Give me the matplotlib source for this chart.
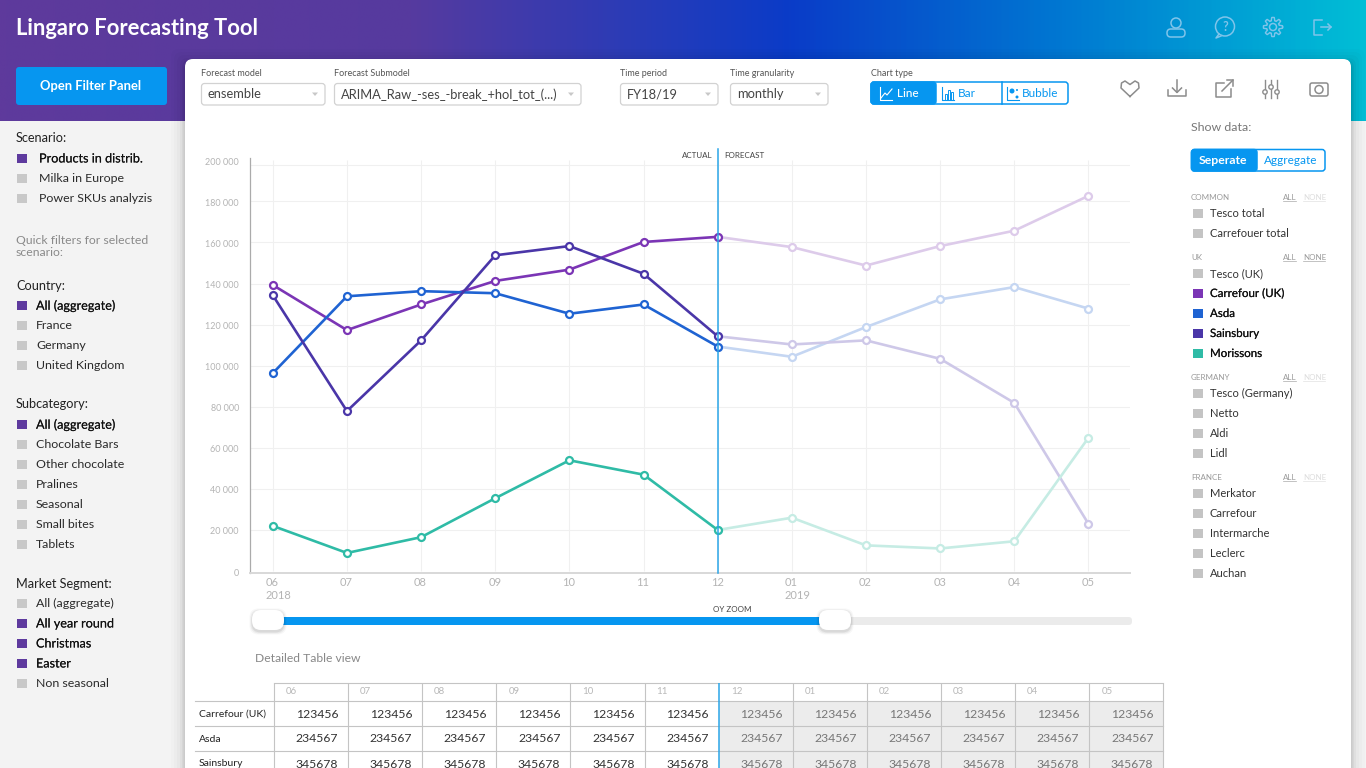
import numpy as np
import matplotlib
matplotlib.use("Agg")
import matplotlib.pyplot as plt
import matplotlib.patheffects as pe
from matplotlib.colors import LinearSegmentedColormap
from matplotlib.patches import FancyBboxPatch, Rectangle, Circle, Polygon
from matplotlib.transforms import ScaledTranslation

plt.rcParams['font.family'] = ['Lato', 'DejaVu Sans']

months = ["06\n2018", "07", "08", "09", "10", "11", "12", "01\n2019", "02", "03", "04", "05"]
table_months = ["06", "07", "08", "09", "10", "11", "12", "01", "02", "03", "04", "05"]
y_ticks = [0, 20000, 40000, 60000, 80000, 100000, 120000, 140000, 160000, 180000, 200000]
grid_levels = [20000, 40000, 60000, 80000, 100000, 120000, 140000, 160500, 180500, 198000]
carrefour_uk = [139500, 117500, 130000, 141500, 147000, 160500, 163000, 158000, 149000, 158500, 166000, 183000]
asda = [96500, 134000, 136500, 135500, 125500, 130000, 109500, 104500, 119000, 132500, 138500, 128000]
sainsbury = [134500, 78000, 112500, 154000, 158500, 145000, 114500, 110500, 112500, 103500, 82000, 23000]
morissons = [22000, 8800, 16500, 35500, 54000, 47000, 20000, 26000, 12500, 11000, 14500, 65000]
series_colors = ["#7B35B5", "#1F63D2", "#4A36A8", "#2FBBA6"]
series_pale = ["#DDCBEA", "#C5D6F2", "#CEC8E8", "#C6ECE4"]
split = 6

scenario = [("Products in distrib.", 1), ("Milka in Europe", 0), ("Power SKUs analyzis", 0)]
country = [("All (aggregate)", 1), ("France", 0), ("Germany", 0), ("United Kingdom", 0)]
subcategory = [("All (aggregate)", 1), ("Chocolate Bars", 0), ("Other chocolate", 0), ("Pralines", 0),
               ("Seasonal", 0), ("Small bites", 0), ("Tablets", 0)]
segment = [("All (aggregate)", 0), ("All year round", 1), ("Christmas", 1), ("Easter", 1), ("Non seasonal", 0)]

common = ["Tesco total", "Carrefouer total"]
uk = ["Tesco (UK)", "Carrefour (UK)", "Asda", "Sainsbury", "Morissons"]
uk_colors = ["#C4C4C4", "#7B35B5", "#1F63D2", "#4A36A8", "#2FBBA6"]
germany = ["Tesco (Germany)", "Netto", "Aldi", "Lidl"]
france = ["Merkator", "Carrefour", "Intermarche", "Leclerc", "Auchan"]

table_rows = ["Carrefour (UK)", "Asda", "Sainsbury"]
table_vals = ["123456", "234567", "345678"]

BLUE = "#0696F0"
PURPLE = "#5E3A9E"
W, H = 1366, 768

fig = plt.figure(figsize=(W / 100, H / 100), dpi=100, facecolor="#F3F3F3")
ui = fig.add_axes([0, 0, 1, 1])
ui.set_xlim(0, W)
ui.set_ylim(H, 0)
ui.axis("off")


def rbox(x0, y0, x1, y1, r=4, **kw):
    p = FancyBboxPatch((x0 + r, y0 + r), x1 - x0 - 2 * r, y1 - y0 - 2 * r,
                       boxstyle="round,pad=%g,rounding_size=%g" % (r, r), **kw)
    ui.add_patch(p)
    return p


def label(x, y, s, size=8.5, color="#333333", **kw):
    kw.setdefault("va", "center")
    return ui.text(x, y + 0.5, s, fontsize=size, color=color, **kw)


# header gradient
grad = LinearSegmentedColormap.from_list("hdr", [(0, "#5E3A9C"), (0.3, "#563A9F"), (0.58, "#0A3CC8"),
                                                 (0.78, "#0078D2"), (1, "#00BED6")])
ui.imshow(np.linspace(0, 1, 600).reshape(1, -1), extent=(0, W, 121, 0), cmap=grad, aspect="auto", zorder=0)
ui.set_xlim(0, W)
ui.set_ylim(H, 0)
label(16, 28, "Lingaro Forecasting Tool", size=15.8, color="white", weight="bold")

# header icons
ic = "#7FC4EA"
ui.add_patch(Circle((1176, 23), 5, fill=False, ec=ic, lw=1.1))
rbox(1167, 29, 1185, 37, r=3.8, fc="none", ec=ic, lw=1.1)
ui.add_patch(Circle((1225, 26.5), 9.5, fill=False, ec=ic, lw=1.1))
ui.plot([1219, 1216, 1221], [34, 38, 36], color=ic, lw=1.1)
label(1225, 26.5, "?", size=9, color=ic, ha="center", weight="bold")
ui.add_patch(Circle((1273, 27), 3.5, fill=False, ec=ic, lw=1.1))
ang = np.linspace(0, 2 * np.pi, 97)
gear_r = 8 + 1.6 * np.clip(3 * np.cos(8 * ang), -1, 1)
ui.plot(1273 + gear_r * np.cos(ang), 27 + gear_r * np.sin(ang), color=ic, lw=1.0)
ui.plot([1322, 1314, 1314, 1322], [20, 20, 35, 35], color=ic, lw=1.1)
ui.plot([1321, 1331], [27, 27], color=ic, lw=1.1)
ui.plot([1328, 1331, 1328], [24, 27, 30], color=ic, lw=1.1)

# open filter button
rbox(16, 67, 167, 105, r=3, fc=BLUE, ec="none", zorder=2)
label(90.5, 85.5, "Open Filter Panel", size=9.4, color="white", weight="bold", ha="center", zorder=3)


# left panel filter lists
def filter_block(y, title, items, x_text=36, first=20, gap=20):
    label(16, y, title, size=9.2, color="#222222")
    yy = y + first
    for name, on in items:
        ui.add_patch(Rectangle((17, yy - 4.5), 9.5, 9.5, fc=PURPLE if on else "#C8C8C8", ec="none"))
        t = label(x_text, yy, name, size=9.1 if on else 8.9, color="#111111" if on else "#2A2A2A")
        if on:
            t.set_path_effects([pe.withStroke(linewidth=0.05, foreground="#111111")])
        yy += gap


filter_block(138, "Scenario:", scenario, x_text=39)
label(16, 240, "Quick filters for selected", size=8.8, color="#8A8A8A")
label(16, 252, "scenario:", size=8.8, color="#8A8A8A")
filter_block(285, "Country:", country)
filter_block(404, "Subcategory:", subcategory)
filter_block(584, "Market Segment:", segment, first=19)

# white panel with soft shadow
for grow, a in [(14, 0.012), (11, 0.015), (8, 0.02), (5, 0.03), (3, 0.04), (1.5, 0.05)]:
    rbox(185 - grow, 59 - grow + 4, 1351 + grow, 790, r=8, fc="black", ec="none", alpha=a, zorder=1)
rbox(185, 59, 1351, 800, r=8, fc="white", ec="none", zorder=1.5)

# control row
Z = 3


def dropdown(x0, x1, title, value):
    label(x0, 73, title, size=6.5, color="#555555", zorder=Z)
    rbox(x0 + 0.5, 83.5, x1, 105, r=3, fc="white", ec="#D2D2D2", lw=0.9, zorder=Z)
    label(x0 + 7, 94, value, size=9.25, color="#444444", zorder=Z)
    ui.add_patch(Polygon([(x1 - 13, 92.5), (x1 - 7, 92.5), (x1 - 10, 96)], fc="#C8C8C8", ec="none", zorder=Z))


dropdown(201, 325, "Forecast model", "ensemble")
dropdown(334, 581, "Forecast Submodel", "ARIMA_Raw_-ses_-break_+hol_tot_(...)")
dropdown(620, 718, "Time period", "FY18/19")
dropdown(730, 828, "Time granularity", "monthly")

label(871, 73, "Chart type", size=6.5, color="#555555", zorder=Z)
rbox(871, 82, 1068, 104, r=3, fc="white", ec=BLUE, lw=1.1, zorder=Z)
rbox(871, 82, 936, 104, r=3, fc=BLUE, ec=BLUE, lw=1.1, zorder=Z)
ui.plot([1002, 1002], [82, 104], color=BLUE, lw=1.1, zorder=Z)
label(897, 93, "Line", size=8.5, color="white", zorder=Z + 1, weight="medium")
label(958, 93, "Bar", size=8.5, color=BLUE, zorder=Z + 1)
label(1022, 93, "Bubble", size=8.5, color=BLUE, zorder=Z + 1)
ui.plot([880, 880, 892], [87, 100, 100], color="white", lw=0.8, zorder=Z + 1)
ui.plot([881, 885, 887, 892], [98, 93, 95, 89], color="white", lw=0.8, zorder=Z + 1)
ui.plot([942, 942, 954], [87, 100, 100], color=BLUE, lw=0.8, zorder=Z + 1)
for bx, bt in [(945, 94), (948, 90), (951, 92)]:
    ui.add_patch(Rectangle((bx, bt), 2, 100 - bt, fc="none", ec=BLUE, lw=0.7, zorder=Z + 1))
ui.plot([1007, 1007, 1019], [87, 100, 100], color=BLUE, lw=0.8, zorder=Z + 1)
ui.add_patch(Circle((1012, 91), 2.5, fc=BLUE, ec="none", zorder=Z + 1))
ui.add_patch(Circle((1017, 97), 1.5, fc=BLUE, ec="none", zorder=Z + 1))
ui.add_patch(Circle((1017, 90), 1, fc=BLUE, ec="none", zorder=Z + 1))

# toolbar icons
tc = "#8C8C8C"
ui.plot([1130, 1121, 1121.5, 1125, 1130, 1135, 1138.5, 1139, 1130],
        [96.5, 88, 83, 81, 84.5, 81, 83, 88, 96.5], color=tc, lw=1.1, zorder=Z)
ui.plot([1168, 1168, 1186, 1186], [90, 96, 96, 90], color=tc, lw=1.1, zorder=Z)
ui.plot([1177, 1177], [80, 92], color=tc, lw=1.1, zorder=Z)
ui.plot([1172.5, 1177, 1181.5], [88, 92.5, 88], color=tc, lw=1.1, zorder=Z)
ui.plot([1224, 1216, 1216, 1231, 1231], [83, 83, 97, 97, 89], color=tc, lw=1.1, zorder=Z)
ui.plot([1222, 1233], [91, 80], color=tc, lw=1.1, zorder=Z)
ui.plot([1227, 1233, 1233], [80, 80, 86], color=tc, lw=1.1, zorder=Z)
for sx, sy in [(1265, 92), (1271, 87), (1277, 92)]:
    ui.plot([sx, sx], [80, 98], color=tc, lw=1.0, zorder=Z)
    ui.add_patch(Circle((sx, sy), 2.2, fc="white", ec=tc, lw=1.0, zorder=Z + 1))
rbox(1310, 83, 1328, 96, r=2, fc="none", ec=tc, lw=1.1, zorder=Z)
ui.add_patch(Circle((1319, 89.5), 4, fill=False, ec=tc, lw=1.1, zorder=Z))

# right hand series panel
label(1191, 127, "Show data:", size=8.9, color="#777777", zorder=Z)
rbox(1191.5, 149.5, 1325, 171, r=3, fc="white", ec=BLUE, lw=1.1, zorder=Z)
rbox(1191.5, 149.5, 1257, 171, r=3, fc=BLUE, ec=BLUE, lw=1.1, zorder=Z)
label(1223, 160, "Seperate", size=8.8, color="white", weight="bold", ha="center", zorder=Z + 1)
label(1291, 160, "Aggregate", size=8.5, color=BLUE, ha="center", zorder=Z + 1)


def series_block(y, title, items, colors=None, none_on=False):
    label(1191, y, title, size=5.8, color="#999999", zorder=Z)
    label(1283, y, "ALL", size=5.8, color="#999999", zorder=Z)
    label(1303, y, "NONE", size=5.8, color="#999999" if none_on else "#DDDDDD", zorder=Z)
    ui.plot([1283, 1296], [y + 4, y + 4], color="#AAAAAA", lw=0.5, zorder=Z)
    ui.plot([1303, 1325], [y + 4, y + 4], color="#AAAAAA" if none_on else "#E2E2E2", lw=0.5, zorder=Z)
    yy = y + 16
    for i, name in enumerate(items):
        col = colors[i] if colors else "#C4C4C4"
        on = col != "#C4C4C4"
        ui.add_patch(Rectangle((1193, yy - 4.5), 9.5, 9.5, fc=col, ec="none", zorder=Z))
        t = label(1210, yy, name, size=8.3 if on else 8, color="#111111" if on else "#333333", zorder=Z)
        if on:
            t.set_path_effects([pe.withStroke(linewidth=0.1, foreground="#111111")])
        yy += 20


series_block(197, "COMMON", common)
series_block(257, "UK", uk, uk_colors, none_on=True)
series_block(377, "GERMANY", germany)
series_block(477, "FRANCE", france)

# chart
px_left, px_right, px_bottom, px_top = 250, 1130, 573, 158
ax = fig.add_axes([px_left / W, 1 - px_bottom / H, (px_right - px_left) / W, (px_bottom - px_top) / H], zorder=5)
ax.patch.set_alpha(0)
step = 74.15
origin = 272.8
ax.set_xlim((px_left - origin) / step, (px_right - origin) / step)
ax.set_ylim(-2 * 487.8, (571 - px_top) * 487.8)
x = np.arange(len(months))
ax.hlines(grid_levels, *ax.get_xlim(), color="#F0F0F0", lw=0.8, zorder=1)
ax.vlines(x, 0, 200500, color="#F0F0F0", lw=0.8, zorder=1)
for vals, c, pale in zip([carrefour_uk, asda, sainsbury, morissons], series_colors, series_pale):
    ax.plot(x[split:], vals[split:], color=pale, lw=1.9, marker="o", ms=5, mfc="white", mec=pale, mew=1.6, zorder=3)
    ax.plot(x[:split + 1], vals[:split + 1], color=c, lw=1.9, marker="o", ms=5, mfc="white", mec=c, mew=1.6, zorder=4)
ax.axvline(split, color="#2BA6E8", lw=1.1, zorder=5, ymax=1.022, clip_on=False)
ax.set_xticks(x)
ax.set_xticklabels(months, fontsize=8, color="#B4B4B4", linespacing=1.2)
ax.set_yticks(y_ticks)
ax.set_yticklabels([("%d" % v) if v == 0 else "%d %03d" % (v // 1000, v % 1000) for v in y_ticks],
                   fontsize=6.5, color="#B4B4B4")
ax.tick_params(axis="x", length=0, pad=3)
ax.tick_params(axis="y", length=0, pad=8)
for t in ax.get_xticklabels():
    t.set_ha("left")
    t.set_transform(t.get_transform() + ScaledTranslation(-7 / 100, 0, fig.dpi_scale_trans))
for t in ax.get_yticklabels():
    t.set_transform(t.get_transform() + ScaledTranslation(0, -1 / 100, fig.dpi_scale_trans))
for s in ["top", "right"]:
    ax.spines[s].set_visible(False)
ax.spines["left"].set_color("#ABABAB")
ax.spines["left"].set_linewidth(0.9)
ax.spines["bottom"].set_color("#D8D8D8")
ax.spines["bottom"].set_linewidth(1.4)
label(713, 155, "ACTUAL", size=5.8, color="#444444", ha="right", zorder=Z)
label(724, 155, "FORECAST", size=5.8, color="#444444", zorder=Z)

# zoom slider
rbox(252, 617, 1132, 625, r=3.5, fc="#EBEBEB", ec="none", zorder=Z)
ui.add_patch(Rectangle((268, 617), 567, 8, fc=BLUE, ec="none", zorder=Z))
label(732, 609, "OY ZOOM", size=5.8, color="#444444", ha="center", zorder=Z)
for hx in [252, 819]:
    for g, a in [(2.5, 0.03), (1.5, 0.05), (0.5, 0.07)]:
        rbox(hx - g, 611 - g, hx + 32 + g, 632 + g, r=9, fc="black", ec="none", alpha=a, zorder=Z)
    rbox(hx, 610, hx + 32, 630, r=9, fc="white", ec="none", zorder=Z + 1)

label(255, 658, "Detailed Table view", size=8.7, color="#888888", zorder=Z)

# table
col_edges = [274 + i * 74.12 for i in range(13)]
row_edges = [683, 701, 726, 751, 776]
ui.add_patch(Rectangle((col_edges[split], 701), col_edges[12] - col_edges[split], 67, fc="#ECECEC", ec="none", zorder=Z))
line = "#C4C4C4"
for i, xe in enumerate(col_edges):
    if i == split:
        continue
    ui.plot([xe, xe], [683, 768], color=line, lw=0.8, zorder=Z, solid_capstyle="butt")
ui.plot([col_edges[split]] * 2, [683, 768], color="#2BA6E8", lw=1.1, zorder=Z + 1, solid_capstyle="butt")
ui.plot([274, col_edges[12]], [683, 683], color=line, lw=0.8, zorder=Z)
for ye in row_edges[1:4]:
    ui.plot([195, col_edges[12]], [ye, ye], color=line, lw=0.8, zorder=Z)
for i, m in enumerate(table_months):
    label(col_edges[i] + 12, 691.5, m, size=7, color="#B8B8B8", zorder=Z + 1)
for r, (name, val) in enumerate(zip(table_rows, table_vals)):
    yc = (row_edges[r + 1] + row_edges[r + 2]) / 2
    label(199, yc + 2.5, name, size=7.5, color="#222222", va="baseline", zorder=Z + 1)
    for i in range(12):
        label(col_edges[i + 1] - 10, yc, val, size=8.8, color="#333333" if i < split else "#777777",
              ha="right", zorder=Z + 1)

fig.savefig("out.png", dpi=100, facecolor=fig.get_facecolor())
